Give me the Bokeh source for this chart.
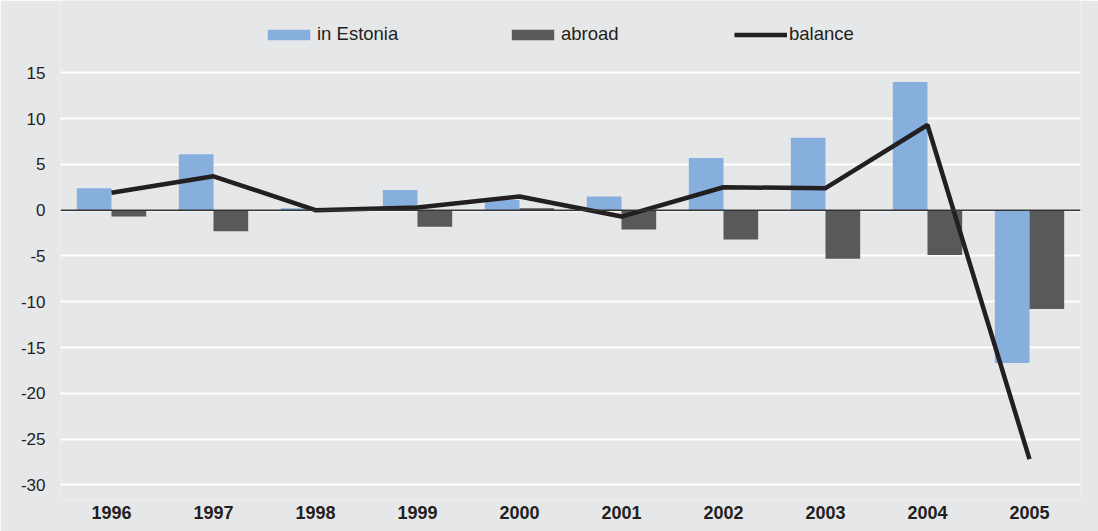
from bokeh.plotting import figure
from bokeh.models import (ColumnDataSource, Range1d, FixedTicker, Span, Legend, LegendItem,
                          PrintfTickFormatter)
from bokeh.transform import dodge
from bokeh.embed import file_html
from bokeh.resources import INLINE

years = ["1996", "1997", "1998", "1999", "2000", "2001", "2002", "2003", "2004", "2005"]
in_estonia = [2.4, 6.1, 0.2, 2.2, 1.1, 1.5, 5.7, 7.9, 14.0, -16.7]
abroad = [-0.7, -2.3, 0.0, -1.8, 0.2, -2.1, -3.2, -5.3, -4.9, -10.8]
balance = [1.9, 3.7, 0.0, 0.3, 1.5, -0.7, 2.5, 2.4, 9.3, -27.2]
y_ticks = [-30, -25, -20, -15, -10, -5, 0, 5, 10, 15]

BG = "#E6E7E9"
BLUE = "#86AFDD"
DARK = "#58595B"
LINE = "#231F20"
FONT = "Liberation Sans"

src = ColumnDataSource(dict(year=years, est=in_estonia, abr=abroad, bal=balance))

p = figure(x_range=years, y_range=Range1d(-31.71, 22.9), width=1098, height=531,
           output_backend="svg", toolbar_location=None,
           min_border_left=60, min_border_right=18, min_border_top=0, min_border_bottom=31)
p.background_fill_color = BG
p.border_fill_color = BG
p.outline_line_color = None

p.xgrid.grid_line_color = None
p.ygrid.grid_line_color = "white"
p.ygrid.grid_line_width = 2
p.yaxis.ticker = FixedTicker(ticks=y_ticks)
p.yaxis.formatter = PrintfTickFormatter(format="%d")

for ax in (p.xaxis[0], p.yaxis[0]):
    ax.axis_line_color = None
    ax.major_tick_line_color = None
    ax.minor_tick_line_color = None
    ax.major_tick_out = 0
    ax.major_tick_in = 0
    ax.major_label_text_font = FONT
    ax.major_label_text_color = "#231F20"
p.yaxis.major_label_text_font_size = "17px"
p.yaxis.major_label_standoff = 15
p.xaxis.major_label_text_font_size = "18px"
p.xaxis.major_label_text_font_style = "bold"
p.xaxis.major_label_standoff = 5

r_est = p.vbar(x=dodge("year", -0.17, range=p.x_range), top="est", bottom=0, width=0.34,
               source=src, fill_color=BLUE, line_color=None)
r_abr = p.vbar(x=dodge("year", 0.17, range=p.x_range), top="abr", bottom=0, width=0.34,
               source=src, fill_color=DARK, line_color=None)
zero = Span(location=0, dimension="width", line_color="#333333", line_width=1.5, level="glyph")
p.add_layout(zero)
r_bal = p.line(x="year", y="bal", source=src, line_color=LINE, line_width=4.5)

def make_legend(label, rend, x):
    lg = Legend(items=[LegendItem(label=label, renderers=[rend])], location=(x, 455),
                glyph_width=53, glyph_height=13, label_standoff=2, padding=0, margin=0,
                border_line_color=None, background_fill_alpha=0,
                label_text_font=FONT, label_text_font_size="18.5px", label_text_color="#231F20")
    p.add_layout(lg, "center")

make_legend("in Estonia", r_est, 202)
make_legend("abroad", r_abr, 446)
make_legend("balance", r_bal, 674)

open("out.html", "w").write(file_html(p, INLINE))
